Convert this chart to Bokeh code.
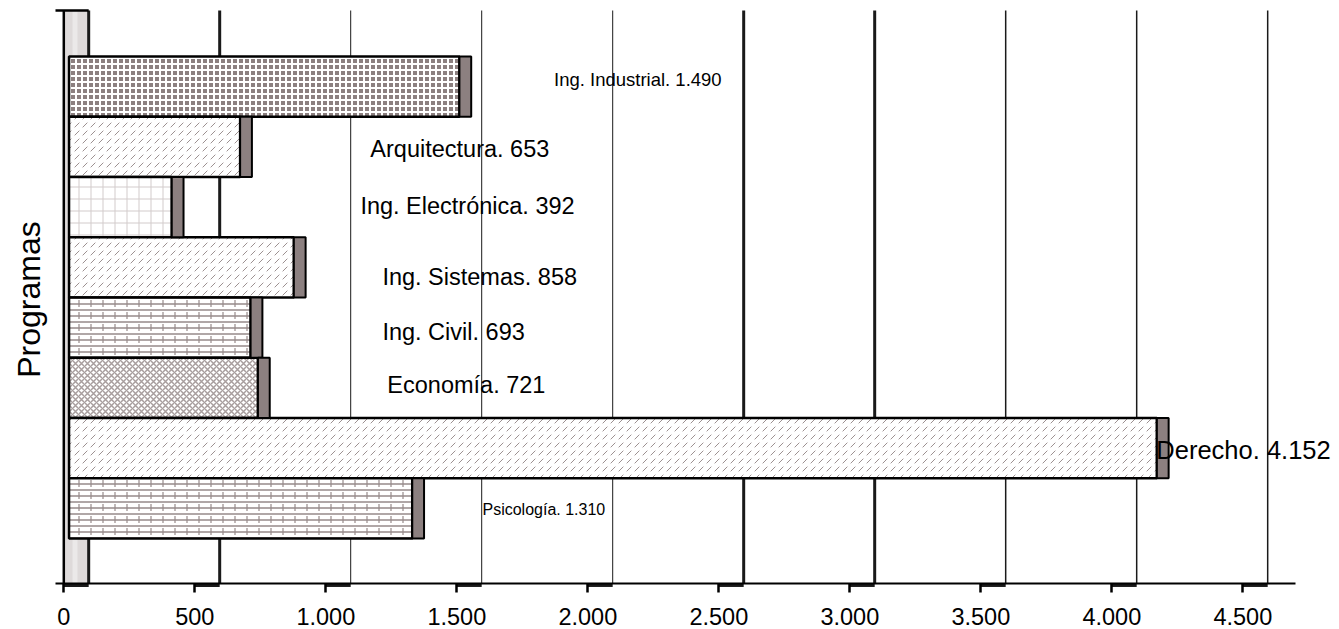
from bokeh.plotting import figure
from bokeh.models import ColumnDataSource, LinearAxis, FixedTicker, Range1d, Label
from bokeh.core.properties import value
from bokeh.embed import file_html
from bokeh.resources import INLINE

# ---------------- data ----------------
programas = ["Ing. Industrial", "Arquitectura", "Ing. Electrónica", "Ing. Sistemas",
             "Ing. Civil", "Economía", "Derecho", "Psicología"]
estudiantes = [1490, 653, 392, 858, 693, 721, 4152, 1310]
x_ticks = [0, 500, 1000, 1500, 2000, 2500, 3000, 3500, 4000, 4500]
y_title = "Programas"


def miles(v):
    return f"{v:,}".replace(",", ".")


# ---------------- layout / style ----------------
FONT = "Liberation Sans"
W, H = 1339, 629
X_START, X_END = -241.6, 4869.1
Y_START, Y_END = -2.010, 8.430
AXIS_Y = -1.247
TOP_Y = 8.264
FLOOR_Y = -1.275
AXIS_BOUNDS = (-31.7, 4701)
DEPTH = 95      # 3-D depth of the chart (data units)
SHIFT = 20      # bar front-face offset
CAP = 45        # bar end-cap width

fills = ["#8c8080", "white", "white", "white", "white", "white", "white", "white"]
hatches = ["+", ",", "+", ",", "-", "x", ",", "-"]
hatch_colors = ["white", "#9c9090", "#d2cbcb", "#9c9090", "#968a8a", "#a89e9e", "#9c9090", "#968a8a"]
hatch_weights = [2, 1, 1, 1, 1.5, 1.5, 1, 1.5]
hatch_scales = [6, 8, 12, 8, 6, 6, 8, 6]
label_sizes = ["18.5px", "23.5px", "23.5px", "23.5px", "23.5px", "23.5px", "25.5px", "16px"]
label_x = [1871, 1170, 1132, 1216, 1216, 1235, 4170, 1598]
label_dy = [0.119, -0.032, 0.027, -0.159, -0.064, 0.056, -0.031, -0.018]
grid_widths = [3, 3, 1, 1, 1, 3, 3, 1.5, 1.5, 1.5]

n = len(programas)
rows = [n - 1 - i for i in range(n)]

src = ColumnDataSource(dict(
    left=[SHIFT] * n,
    right=[v + SHIFT for v in estudiantes],
    cap_r=[v + SHIFT + CAP for v in estudiantes],
    top=[r + 0.5 for r in rows],
    bottom=[r - 0.5 for r in rows],
    fill=fills, hatch=hatches, hcol=hatch_colors, hw=hatch_weights, hs=hatch_scales,
    lx=label_x, ly=[r + d for r, d in zip(rows, label_dy)],
    label=[f"{p}. {miles(v)}" for p, v in zip(programas, estudiantes)],
    fs=label_sizes,
))

brick_idx = [i for i, h in enumerate(hatches) if h == "-"]
brick = ColumnDataSource(dict(
    left=[SHIFT] * len(brick_idx),
    right=[estudiantes[i] + SHIFT for i in brick_idx],
    top=[rows[i] + 0.5 for i in brick_idx],
    bottom=[rows[i] - 0.5 for i in brick_idx],
))

p = figure(width=W, height=H, x_range=Range1d(X_START, X_END), y_range=Range1d(Y_START, Y_END),
           x_axis_type=None, y_axis_type=None, output_backend="svg", toolbar_location=None,
           min_border_left=0, min_border_right=0, min_border_top=0, min_border_bottom=0)
p.outline_line_color = None
p.background_fill_color = "white"
p.border_fill_color = "white"

# side wall
p.quad(left=0, right=DEPTH, bottom=AXIS_Y, top=TOP_Y, fill_color="#dedada", line_color=None)
p.quad(left=DEPTH * 0.35, right=DEPTH * 0.55, bottom=AXIS_Y, top=TOP_Y, fill_color="#ebe9e9", line_color=None)

# gridlines (back wall) and floor edges
gsrc = ColumnDataSource(dict(x=[t + DEPTH for t in x_ticks], t=x_ticks, w=grid_widths))
p.segment(x0="x", x1="x", y0=AXIS_Y, y1=TOP_Y, line_width="w", line_color="#1a1a1a", source=gsrc)
p.segment(x0="t", x1="x", y0=FLOOR_Y, y1=FLOOR_Y, line_width=3.5, line_color="#1a1a1a", source=gsrc)

# y axis line and top edge
p.segment(x0=0, x1=0, y0=AXIS_Y, y1=TOP_Y, line_width=2.5, line_color="black")
p.segment(x0=AXIS_BOUNDS[0], x1=DEPTH, y0=TOP_Y, y1=TOP_Y, line_width=2.5, line_color="black")

# bars
p.quad(left="left", right="right", top="top", bottom="bottom", source=src,
       fill_color="fill", hatch_pattern="hatch", hatch_color="hcol", hatch_weight="hw",
       hatch_scale="hs", line_color="black", line_width=2.5)
p.quad(left="left", right="right", top="top", bottom="bottom", source=brick,
       fill_alpha=0, hatch_pattern=":", hatch_color="#968a8a", hatch_weight=1.2, hatch_scale=12,
       line_color=None)
# end caps
p.quad(left="right", right="cap_r", top="top", bottom="bottom", source=src,
       fill_color="#8c8080", line_color="black", line_width=2)

# data labels
p.text(x="lx", y="ly", text="label", source=src, text_font=value(FONT), text_font_size="fs",
       text_align="left", text_baseline="middle", text_color="black")

# x axis
xaxis = LinearAxis(fixed_location=AXIS_Y, ticker=FixedTicker(ticks=x_ticks), bounds=AXIS_BOUNDS)
xaxis.major_label_overrides = {t: miles(t) for t in x_ticks}
xaxis.axis_line_width = 2
xaxis.axis_line_color = "black"
xaxis.major_tick_out = 9
xaxis.major_tick_in = 0
xaxis.major_tick_line_width = 2.5
xaxis.major_tick_line_color = "black"
xaxis.minor_tick_line_color = None
xaxis.major_label_standoff = 15
xaxis.major_label_text_font = FONT
xaxis.major_label_text_font_size = "23.5px"
xaxis.major_label_text_color = "black"
p.add_layout(xaxis, "below")

# y title
p.add_layout(Label(x=-131, y=3.467, text=y_title, angle=1.5708, text_align="center",
                   text_baseline="middle", text_font=FONT, text_font_size="32px",
                   text_color="black"))

open("out.html", "w").write(file_html(p, INLINE))
